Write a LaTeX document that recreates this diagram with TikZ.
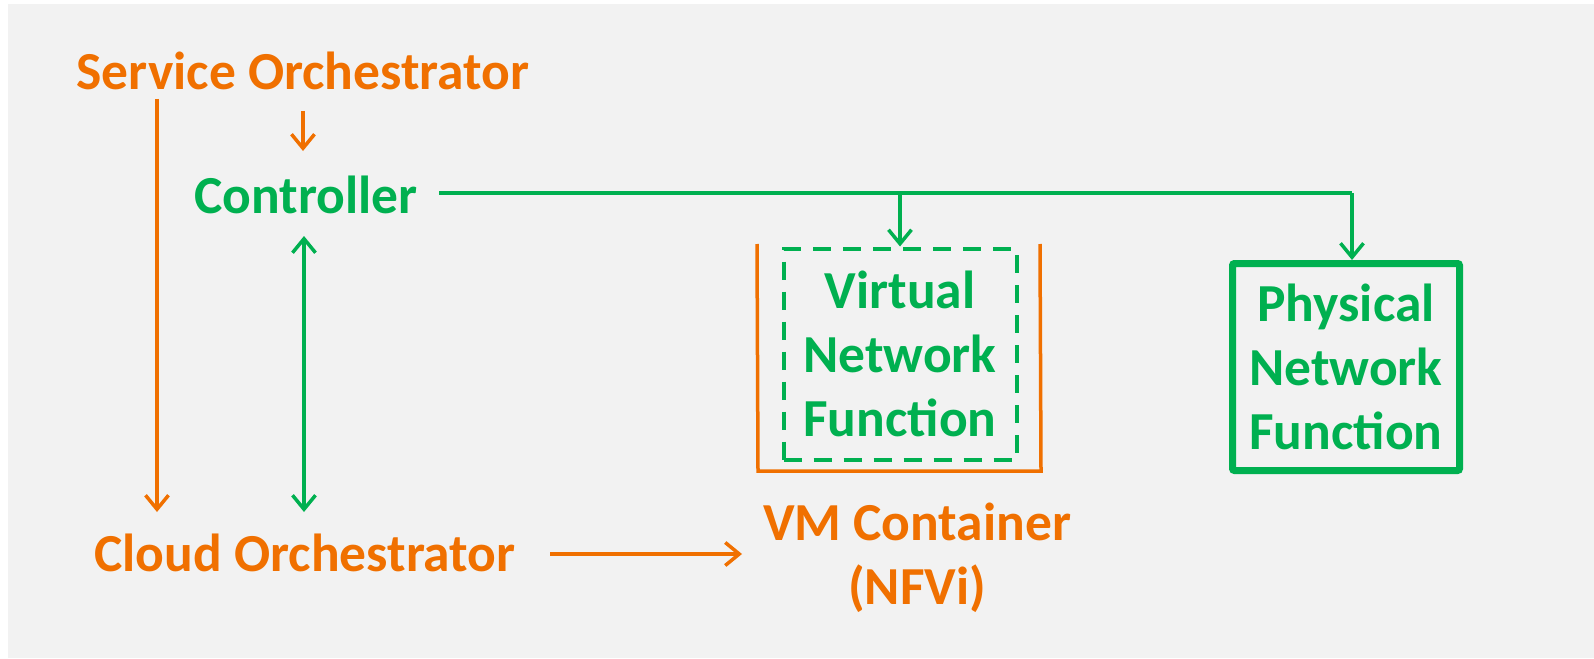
\documentclass[tikz,border=0pt]{standalone}
\usepackage{fontspec}
\setmainfont{Carlito}
\usetikzlibrary{arrows.meta,positioning}
\definecolor{nforange}{RGB}{240,112,0}
\definecolor{nfgreen}{RGB}{0,176,80}
\definecolor{bggray}{RGB}{242,242,242}
\tikzset{
  lbl/.style={font=\fontsize{53.5}{64}\selectfont\bfseries, inner sep=0pt, align=center},
  orangelbl/.style={lbl, text=nforange},
  greenlbl/.style={lbl, text=nfgreen},
  tip/.tip={Straight Barb[length=14pt,width=23pt,line width=3.5pt]},
  barb/.style={-tip, line width=3.5pt},
  dblbarb/.style={tip-tip, line width=3.5pt},
}
\begin{document}
\begin{tikzpicture}[x=1pt,y=-1pt]
\useasboundingbox (0,0) rectangle (1594,658);
\fill[white] (0,0) rectangle (1594,658);
\fill[bggray] (8,4) rectangle (1594,658);
% labels
\node[orangelbl] (so) at (303,71) {Service Orchestrator};
\node[greenlbl] (ctrl) at (306,195) {Controller};
\node[orangelbl] (co) at (305,553) {Cloud Orchestrator};
\node[orangelbl] (vmc) at (917,558) {VM Container\\(NFVi)};
% boxes
\node[greenlbl, draw=nfgreen, line width=4pt, dash pattern=on 18pt off 12pt,
      minimum width=233pt, minimum height=211pt] (vnf) at (900,354) {Virtual\\Network\\Function};
\node[greenlbl, draw=nfgreen, line width=7pt, rounded corners=2pt,
      minimum width=227pt, minimum height=207pt] (pnf) at (1346,367) {Physical\\Network\\Function};
% VM container
\draw[nforange, line width=3.5pt] (757,244) -- (758,471) -- (1041,471) -- (1040,244);
% free ends
\coordinate (so1) at (157,99);
\coordinate (co1) at (157,512);
\coordinate (so2) at (303,111);
\coordinate (ctrl1) at (303,151);
\coordinate (ctrl2) at (304,236);
\coordinate (co2) at (304,512);
\coordinate (co3) at (550,554);
\coordinate (vmc1) at (742,554);
\coordinate (ctrl3) at (439,193);
\coordinate (bus) at (1352,193);
% connectors
\draw[nforange, barb] (so1) -- (co1);
\draw[nforange, barb] (so2) -- (ctrl1);
\draw[nfgreen, dblbarb] (ctrl2) -- (co2);
\draw[nforange, barb] (co3) -- (vmc1);
\draw[nfgreen, line width=3.5pt] (ctrl3) -- (bus);
\draw[nfgreen, barb] (bus) -- (bus |- pnf.north);
\draw[nfgreen, barb] (vnf.north |- bus) -- (vnf.north);
\end{tikzpicture}
\end{document}
